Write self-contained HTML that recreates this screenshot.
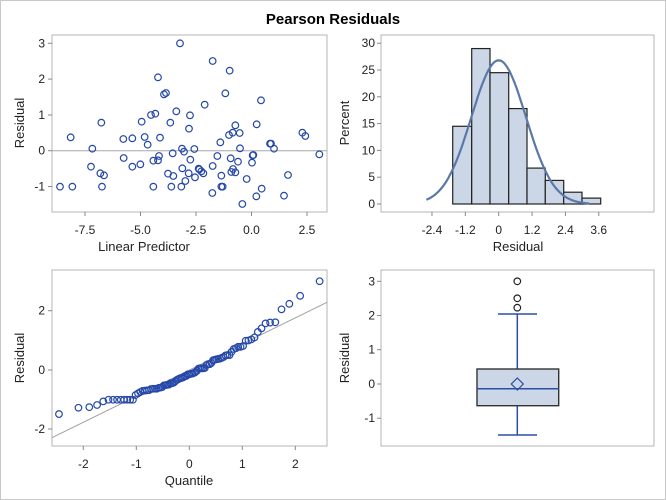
<!DOCTYPE html>
<html><head><meta charset="utf-8"><style>
html,body{margin:0;padding:0;background:#fff}
svg{display:block;font-family:"Liberation Sans",sans-serif}
</style></head><body>
<svg id="s" width="666" height="500" viewBox="0 0 666 500" xmlns="http://www.w3.org/2000/svg">
<rect x="0.5" y="0.5" width="665" height="499" fill="#fff" stroke="#c8c8c8"/>
<text x="333" y="24" text-anchor="middle" font-size="15" font-weight="bold" fill="#000">Pearson Residuals</text>
<g id="g"></g>
</svg>
<script>
var g=document.getElementById('g'),h='';
function L(x1,y1,x2,y2,c,w){h+='<line x1="'+x1+'" y1="'+y1+'" x2="'+x2+'" y2="'+y2+'" stroke="'+(c||'#000')+'" stroke-width="'+(w||1)+'"/>';}
function T(x,y,t,a,s,rot){h+='<text x="'+x+'" y="'+y+'" font-size="'+(s||12)+'" text-anchor="'+(a||'middle')+'" fill="#222"'+(rot?' transform="rotate(-90 '+x+' '+y+')"':'')+'>'+t+'</text>';}
function F(x1,y1,x2,y2){h+='<rect x="'+x1+'" y="'+y1+'" width="'+(x2-x1)+'" height="'+(y2-y1)+'" fill="none" stroke="#b4b4b4"/>';}
function C(x,y,c){h+='<circle cx="'+x+'" cy="'+y+'" r="3.3" fill="none" stroke="'+(c||'#2548a8')+'" stroke-width="1.2"/>';}
// panel 1
F(52,35,327,212);
L(52,150.7,327,150.7,'#a8a8a8',1);
[[3,43.3],[2,79.1],[1,115],[0,150.7],[-1,186.5]].forEach(function(t){L(48,t[1],52,t[1],'#888');T(45,t[1]+4,t[0],'end');});
[[-7.5,-7.5],[-5,-5.0],[-2.5,-2.5],[0,0.0],[2.5,2.5]].forEach(function(t,i){var x=251.5+t[0]*22.2;L(x,212,x,216,'#888');T(x,234,['-7.5','-5.0','-2.5','0.0','2.5'][i]);});
T(144,251,'Linear Predictor','middle',13);
T(24,123,'Residual','middle',13,1);
var P=[[180,470],[212,322],[217,470],[277,356],[273,410],[301,430],[312,436],[304,278],[306,470],[370,327],[371,384],[397,325],[397,410],[421,403],[425,275],[434,321],[443,344],[453,255],[460,392],[460,470],[466,251],[474,142],[474,391],[477,378],[480,323],[492,193],[498,189],[504,431],[511,278],[514,470],[518,370],[520,438],[529,244],[540,40],[544,470],[546,356],[547,415],[552,365],[556,453],[567,296],[566,430],[570,256],[571,389],[583,357],[585,442],[596,416],[598,418],[604,424],[610,430],[614,224],[638,93],[638,408],[637,489],[652,378],[661,337],[664,437],[664,470],[668,470],[676,190],[687,315],[689,122],[692,385],[694,426],[698,308],[699,417],[706,286],[706,427],[714,395],[719,309],[720,355],[727,522],[740,447],[756,398],[758,376],[760,375],[770,283],[769,499],[783,211],[785,476],[810,341],[813,341],[822,356],[852,497],[864,435],[907,308],[916,318],[958,373]];
var R=[];
P.forEach(function(p){var x=p[0]/3,y=30+p[1]/3;C(x,y);R.push((150.7-y)/35.8);});
// panel 2 histogram
F(381,35,654,212);
[0,5,10,15,20,25,30].forEach(function(v){var y=204-v*5.36;L(377,y,381,y,'#888');T(375,y+4,v,'end');});
['-2.4','-1.2','0','1.2','2.4','3.6'].forEach(function(s){var x=498.7+parseFloat(s)*27.8;L(x,212,x,216,'#888');T(x,234,s);});
T(518,251,'Residual','middle',13);T(349,123,'Percent','middle',13,1);
var E=[452.7,471.7,490,508.7,527,545.3,563.7,582,600.7],H=[14.5,29,24.5,17.8,6.7,4.4,2.2,1.1];
for(var i=0;i<8;i++){var y=204-H[i]*5.36;h+='<rect x="'+E[i]+'" y="'+y+'" width="'+(E[i+1]-E[i])+'" height="'+(204-y)+'" fill="#cbd6e6" stroke="#222" stroke-width="1.2"/>';}
var d='';for(var v=-2.6;v<=3.25;v+=0.05){var p=26.8*Math.exp(-v*v/(2*0.98*0.98));d+=(d?'L':'M')+(498.7+v*27.8).toFixed(1)+','+(204-p*5.36).toFixed(1);}
h+='<path d="'+d+'" fill="none" stroke="#5a78a8" stroke-width="2.2"/>';
// panel 3 qq
F(52,270,327,446);
[[2,310.7],[0,370],[-2,429]].forEach(function(t){L(48,t[1],52,t[1],'#888');T(45,t[1]+4,t[0],'end');});
[-2,-1,0,1,2].forEach(function(q){var x=189.3+q*53;L(x,446,x,450,'#888');T(x,468,q);});
T(189,485,'Quantile','middle',13);T(24,358,'Residual','middle',13,1);
L(52,437.7,327,302.3,'#a0a0a0',1);
R.sort(function(a,b){return a-b});
function qn(p){var a=[-39.6968302866538,220.946098424521,-275.928510446969,138.357751867269,-30.6647980661472,2.50662827745924],b=[-54.4760987982241,161.585836858041,-155.698979859887,66.8013118877197,-13.2806815528857],c=[-0.00778489400243029,-0.322396458041136,-2.40075827716184,-2.54973253934373,4.37466414146497,2.93816398269878],dd=[0.00778469570904146,0.32246712907004,2.445134137143,3.75440866190742];var q,r;if(p<0.02425){q=Math.sqrt(-2*Math.log(p));return(((((c[0]*q+c[1])*q+c[2])*q+c[3])*q+c[4])*q+c[5])/((((dd[0]*q+dd[1])*q+dd[2])*q+dd[3])*q+1);}if(p>1-0.02425){q=Math.sqrt(-2*Math.log(1-p));return-(((((c[0]*q+c[1])*q+c[2])*q+c[3])*q+c[4])*q+c[5])/((((dd[0]*q+dd[1])*q+dd[2])*q+dd[3])*q+1);}q=p-0.5;r=q*q;return(((((a[0]*r+a[1])*r+a[2])*r+a[3])*r+a[4])*r+a[5])*q/(((((b[0]*r+b[1])*r+b[2])*r+b[3])*r+b[4])*r+1);}
var n=R.length;R.forEach(function(r,i){var q=qn((i+1-0.375)/(n+0.25));C(189.3+q*53*(2.47/2.46),370-r*29.6);});
// panel 4 box
F(381,270,654,446);
[[3,281.3],[2,315.5],[1,349.7],[0,384],[-1,418.2]].forEach(function(t){L(377,t[1],381,t[1],'#888');T(375,t[1]+4,t[0],'end');});
T(349,358,'Residual','middle',13,1);
L(517.3,314,517.3,369,'#2a4fa8',1.5);L(517.3,405.7,517.3,435,'#2a4fa8',1.5);
L(498,314,537,314,'#2a4fa8',1.5);L(498,435,537,435,'#2a4fa8',1.5);
h+='<rect x="477" y="369" width="81.7" height="36.7" fill="#cbd6e6" stroke="#333" stroke-width="1.4"/>';
L(477,388.7,558.7,388.7,'#2a4fa8',1.5);
h+='<path d="M517.3,378 L523.3,384 L517.3,390 L511.3,384 Z" fill="none" stroke="#2a4fa8" stroke-width="1.2"/>';
[281.3,298.3,307.7].forEach(function(y){C(517.3,y,'#222');});
g.innerHTML=h;
</script>
</body></html>
